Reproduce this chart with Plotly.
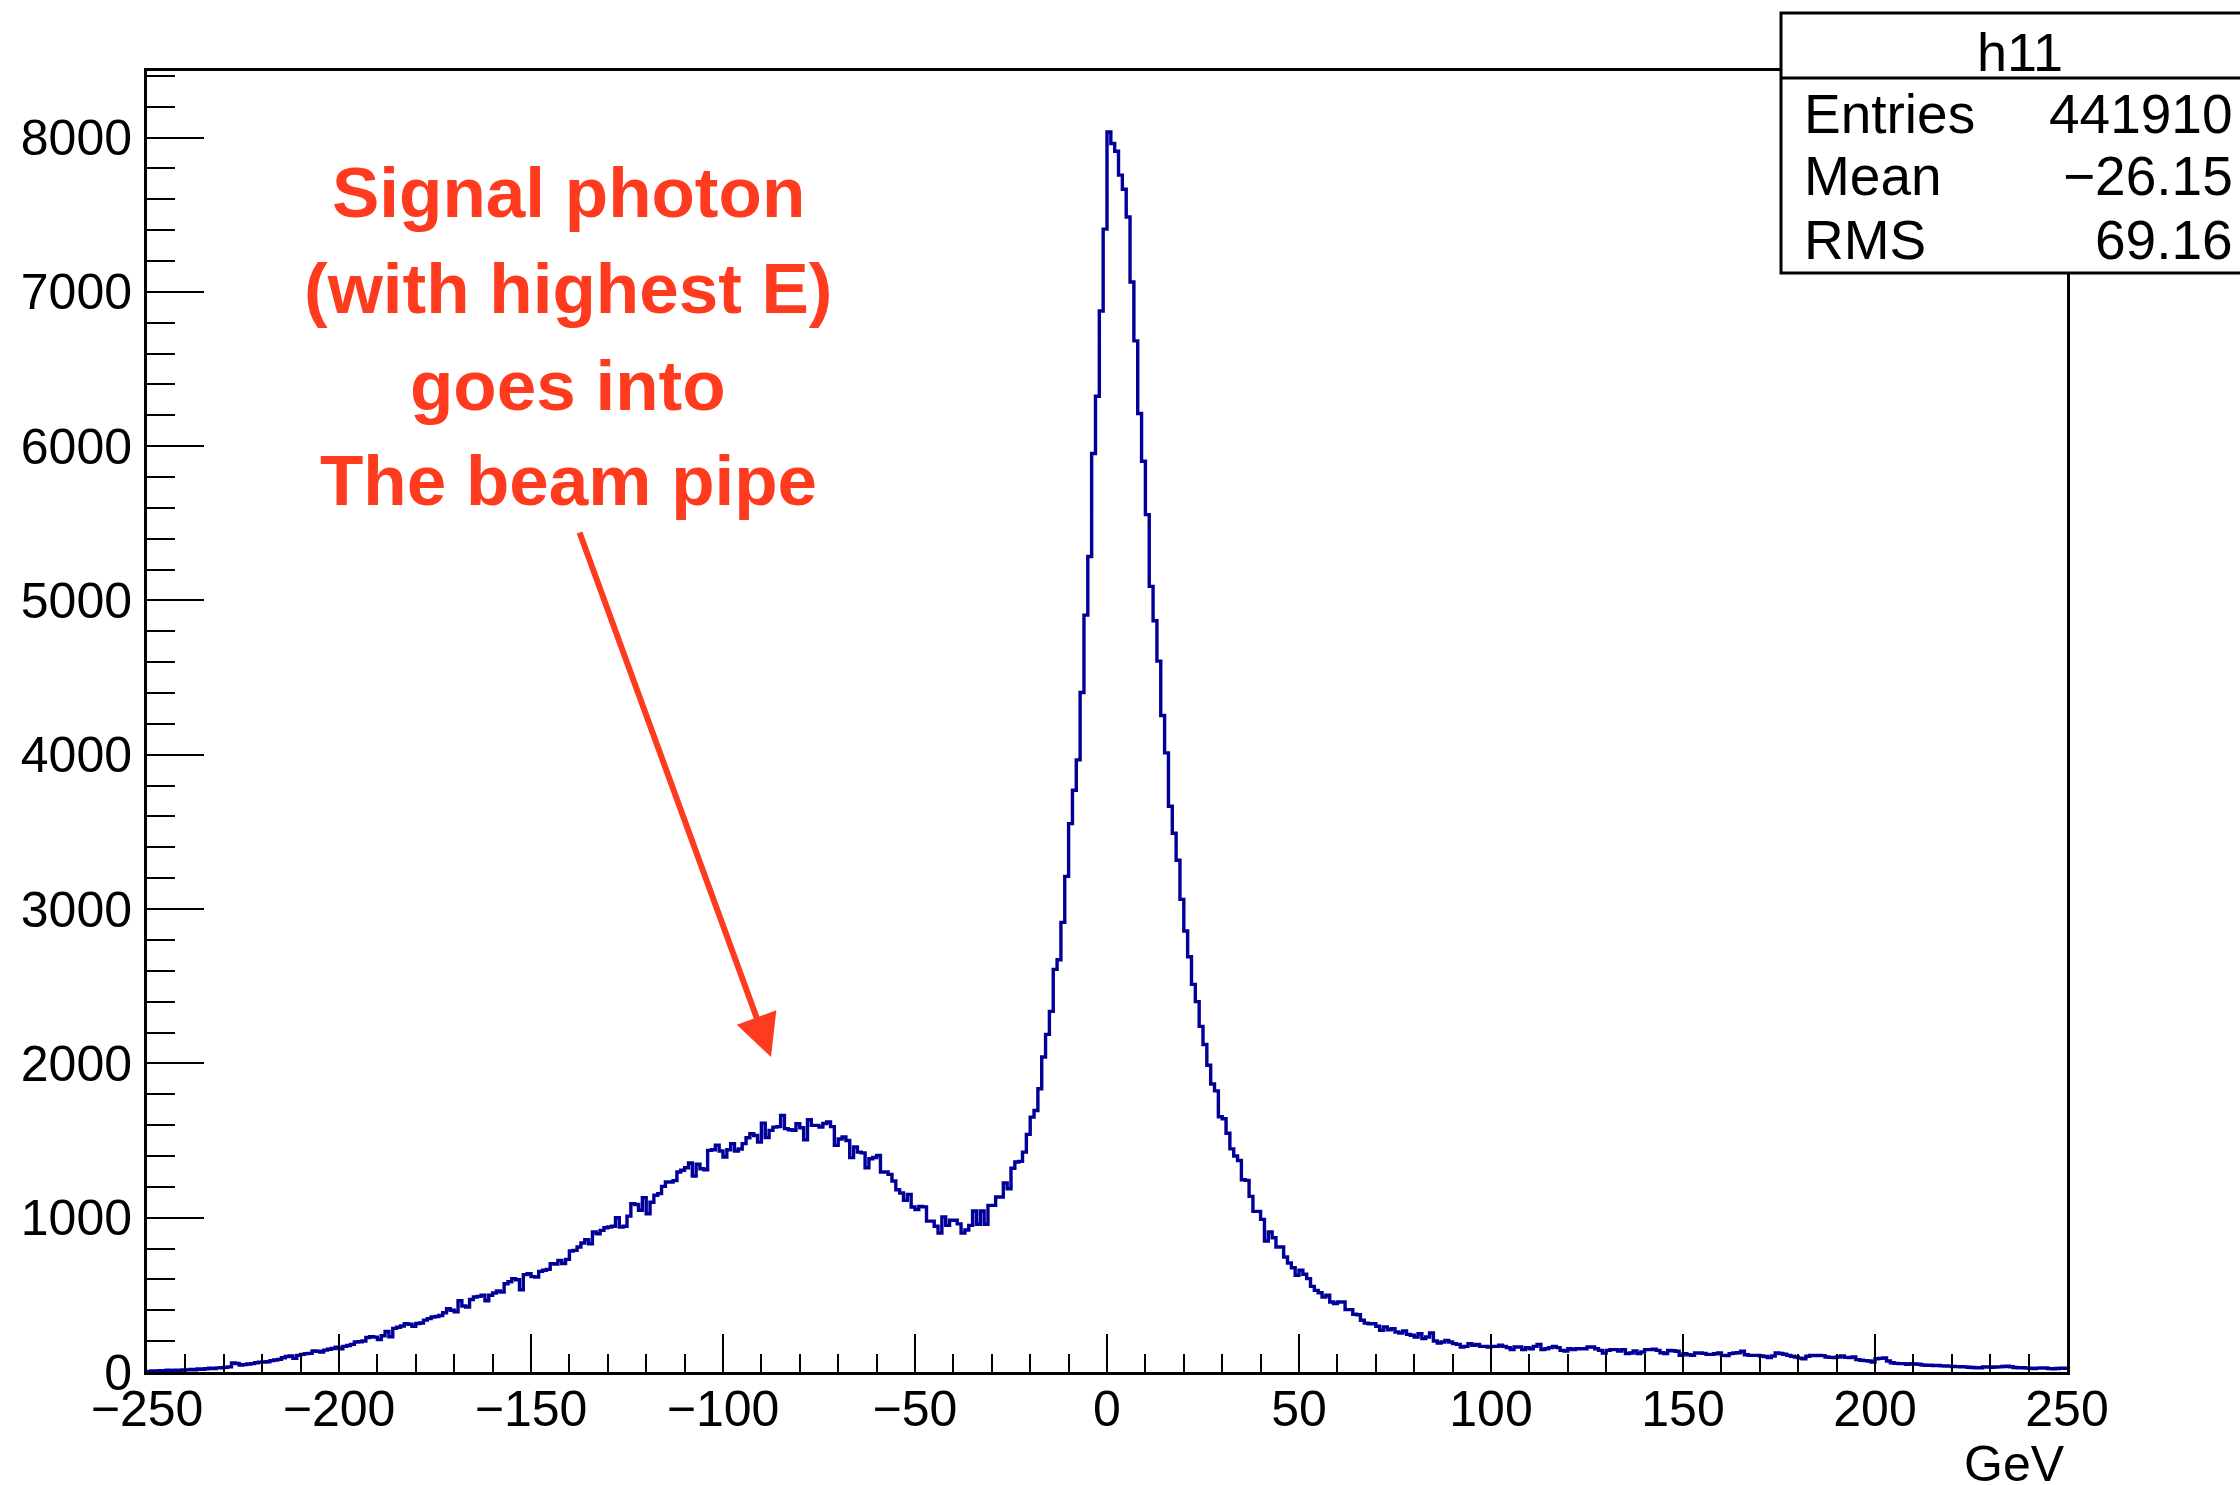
import numpy as np
import plotly.graph_objects as go

# ---------------- data (histogram h11, 500 bins of 1 GeV from -250 to 250) ----------------
x_low, x_high, n_bins = -250.0, 250.0, 500

counts_neg = [
    4, 7, 5, 9, 8, 11, 9, 12, 10, 13,
    14, 16, 15, 19, 18, 21, 24, 22, 27, 28,
    30, 33, 58, 55, 45, 48, 52, 54, 60, 64,
    65, 66, 74, 78, 82, 92, 100, 104, 88, 108,
    114, 119, 121, 136, 134, 130, 142, 147, 152, 160,
    151, 166, 172, 179, 194, 196, 201, 224, 228, 226,
    210, 235, 262, 228, 283, 290, 298, 313, 309, 296,
    314, 318, 336, 346, 356, 360, 366, 384, 410, 400,
    390, 462, 428, 421, 470, 486, 490, 498, 462, 497,
    512, 525, 518, 572, 585, 605, 598, 533, 631, 637,
    618, 615, 652, 659, 665, 702, 700, 723, 702, 730,
    784, 788, 810, 836, 857, 831, 907, 896, 918, 935,
    940, 945, 1000, 940, 945, 1010, 1091, 1085, 1048, 1130,
    1026, 1100, 1145, 1156, 1203, 1231, 1231, 1240, 1296, 1307,
    1324, 1354, 1270, 1346, 1317, 1311, 1436, 1440, 1469, 1432,
    1393, 1440, 1480, 1432, 1445, 1480, 1518, 1544, 1533, 1490,
    1613, 1520, 1566, 1587, 1590, 1663, 1577, 1570, 1566, 1609,
    1583, 1505, 1635, 1598, 1598, 1587, 1610, 1620, 1590, 1469,
    1510, 1523, 1500, 1389, 1458, 1425, 1420, 1324, 1382, 1390,
    1404, 1296, 1296, 1281, 1238, 1181, 1160, 1112, 1151, 1069,
    1052, 1073, 1070, 978, 978, 945, 901, 1004, 950, 983,
    983, 960, 901, 920, 950, 1043, 957, 1043, 957, 1080,
    1080, 1134, 1134, 1225, 1188, 1320, 1361, 1365, 1425, 1540,
    1652, 1695, 1836, 2041, 2188, 2337, 2609, 2672, 2914, 3212,
    3554, 3770, 3967, 4403, 4905, 5285, 5952, 6323, 6876, 7406,
]
counts_pos = [
    8036, 7961, 7911, 7756, 7665, 7485, 7064, 6682, 6211, 5902,
    5556, 5091, 4868, 4607, 4254, 4012, 3666, 3491, 3316, 3063,
    2858, 2691, 2512, 2400, 2240, 2122, 1988, 1866, 1822, 1654,
    1641, 1547, 1446, 1400, 1371, 1246, 1242, 1138, 1041, 1041,
    989, 849, 907, 870, 810, 810, 745, 706, 676, 626,
    659, 633, 605, 555, 529, 514, 486, 497, 454, 443,
    454, 454, 404, 404, 374, 371, 335, 317, 313, 313,
    296, 270, 292, 274, 281, 259, 253, 266, 244, 238,
    227, 248, 216, 227, 253, 201, 188, 194, 205, 194,
    184, 179, 162, 166, 184, 173, 179, 166, 166, 162,
    166, 166, 173, 166, 158, 145, 162, 162, 145, 158,
    151, 166, 179, 145, 151, 158, 166, 158, 140, 136,
    151, 145, 151, 151, 151, 162, 162, 151, 140, 123,
    140, 145, 145, 136, 145, 119, 123, 136, 119, 130,
    145, 145, 147, 140, 125, 119, 140, 138, 134, 108,
    119, 112, 108, 123, 123, 121, 114, 114, 118, 123,
    108, 106, 119, 123, 125, 134, 112, 108, 108, 108,
    104, 100, 93, 104, 123, 120, 115, 108, 102, 97,
    90, 86, 102, 108, 106, 108, 106, 97, 95, 93,
    97, 104, 95, 93, 97, 80, 76, 74, 71, 65,
    86, 88, 91, 71, 60, 56, 54, 54, 50, 54,
    52, 50, 45, 43, 44, 41, 42, 40, 39, 38,
    36, 35, 34, 33, 31, 29, 27, 28, 32, 33,
    31, 32, 33, 36, 37, 34, 29, 27, 28, 26,
    24, 23, 25, 27, 26, 22, 21, 23, 25, 24,
]
counts = counts_neg + counts_pos

hist_name = "h11"
stat_labels = ["Entries", "Mean", "RMS"]
stat_values = ["441910", "\u221226.15", "69.16"]
x_title = "GeV"
note_lines = ["Signal photon", "(with highest E)", "goes into", "The beam pipe"]

x_tickvals = [-250, -200, -150, -100, -50, 0, 50, 100, 150, 200, 250]
y_tickvals = [0, 1000, 2000, 3000, 4000, 5000, 6000, 7000, 8000]
y_max = 8431

# ---------------- figure ----------------
W_FIG, H_FIG = 2240, 1485
L, T, PW, PH = 147, 71, 1920, 1301
R = W_FIG - L - PW
B = H_FIG - T - PH


def px(xp):
    return (xp - L) / PW


def py(yp):
    return (T + PH - yp) / PH


edges = np.linspace(x_low, x_high, n_bins + 1)
ys = list(counts) + [counts[-1]]

FONT = "Liberation Sans, Arial, Helvetica, sans-serif"
BLUE = "#000099"
RED = "#FF3B1F"

fig = go.Figure()
fig.add_trace(go.Scatter(
    x=edges, y=ys, mode="lines", line=dict(shape="hv", color=BLUE, width=3.4),
    hoverinfo="skip", showlegend=False,
))

fig.update_layout(
    width=W_FIG, height=H_FIG,
    margin=dict(l=L, r=R, t=T, b=B, pad=0),
    paper_bgcolor="white", plot_bgcolor="white",
    font=dict(family=FONT, color="black", size=50),
    showlegend=False,
)

fig.update_xaxes(
    range=[x_low, x_high], showgrid=False, zeroline=False,
    showline=True, linecolor="black", linewidth=3, mirror=True,
    ticks="inside", ticklen=38, tickwidth=2, tickcolor="black",
    tickvals=x_tickvals, ticktext=[("\u2212" + str(-v)) if v < 0 else str(v) for v in x_tickvals],
    tickfont=dict(size=50, family=FONT), ticklabelstandoff=-9,
    minor=dict(dtick=10, tick0=0, ticks="inside", ticklen=18, tickwidth=2, tickcolor="black", showgrid=False),
)
fig.update_yaxes(
    range=[0, y_max], showgrid=False, zeroline=False,
    showline=True, linecolor="black", linewidth=3, mirror=True,
    ticks="inside", ticklen=57, tickwidth=2, tickcolor="black",
    tickvals=y_tickvals, ticktext=[str(v) for v in y_tickvals],
    tickfont=dict(size=50, family=FONT), ticklabelstandoff=2,
    minor=dict(dtick=200, tick0=0, ticks="inside", ticklen=28, tickwidth=2, tickcolor="black", showgrid=False),
)

shapes = [
    dict(type="rect", xref="paper", yref="paper", x0=px(1781), x1=px(2260), y0=py(273), y1=py(13),
         line=dict(color="black", width=3), fillcolor="white", layer="above"),
    dict(type="line", xref="paper", yref="paper", x0=px(1781), x1=px(2260), y0=py(78), y1=py(78),
         line=dict(color="black", width=3), layer="above"),
]
fig.update_layout(shapes=shapes)

ann = []
ann.append(dict(xref="paper", yref="paper", x=px(2020), y=py(52), text=hist_name, showarrow=False,
                xanchor="center", yanchor="middle", font=dict(size=54, family=FONT, color="black")))
row_y = [114, 176, 240]
for lab, val, ry in zip(stat_labels, stat_values, row_y):
    ann.append(dict(xref="paper", yref="paper", x=px(1802), y=py(ry), text=lab, showarrow=False,
                    xanchor="left", yanchor="middle", font=dict(size=55, family=FONT, color="black")))
    ann.append(dict(xref="paper", yref="paper", x=px(2235), y=py(ry), text=val, showarrow=False,
                    xanchor="right", yanchor="middle", font=dict(size=55, family=FONT, color="black")))

ann.append(dict(xref="paper", yref="paper", x=1.0, y=py(1464), text=x_title, showarrow=False,
                xanchor="right", yanchor="middle", font=dict(size=50, family=FONT, color="black")))

line_y = [192, 288, 385, 481]
for txt, ly in zip(note_lines, line_y):
    ann.append(dict(xref="paper", yref="paper", x=px(568), y=py(ly), text="<b>" + txt + "</b>",
                    showarrow=False, xanchor="center", yanchor="middle",
                    font=dict(size=71, family=FONT, color=RED)))

ann.append(dict(xref="paper", yref="paper", x=px(771), y=py(1057), ax=-192, ay=-526,
                axref="pixel", ayref="pixel", text="", showarrow=True,
                arrowhead=2, arrowsize=1.4, arrowwidth=6, arrowcolor=RED))
fig.update_layout(annotations=ann)

fig.write_html("out.html")
